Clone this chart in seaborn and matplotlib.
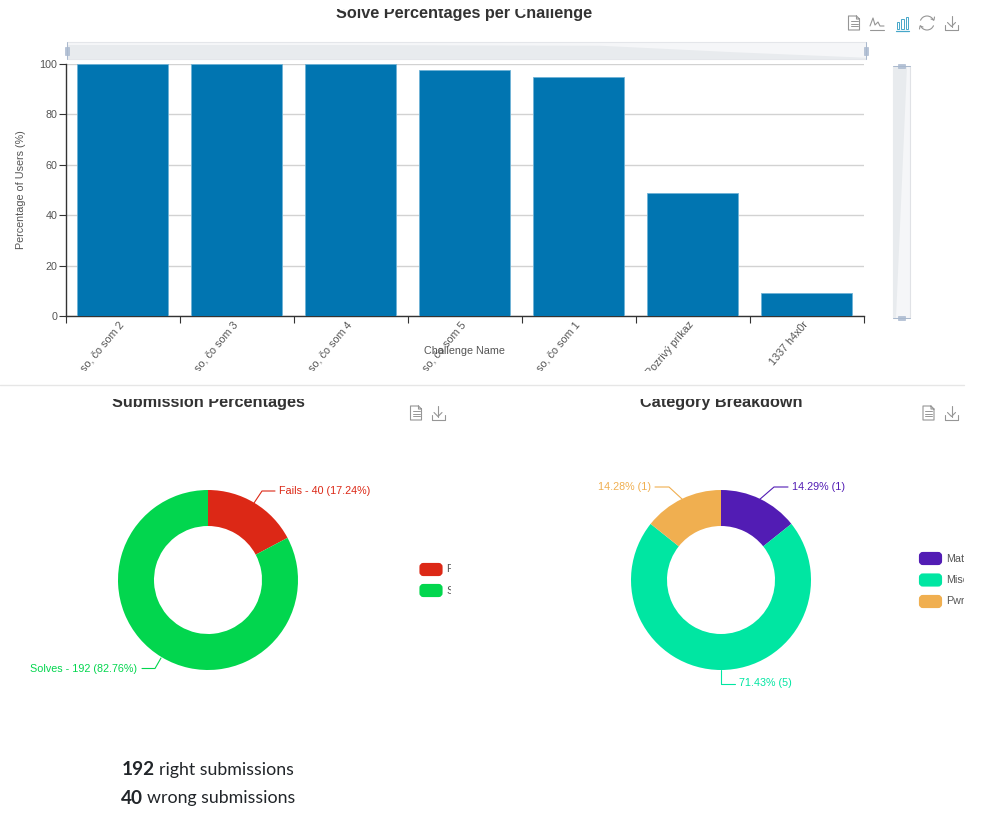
import numpy as np
import pandas as pd
import matplotlib
matplotlib.use("Agg")
import matplotlib.pyplot as plt
from matplotlib.patches import Rectangle, FancyBboxPatch, Polygon, Arc
from matplotlib.transforms import ScaledTranslation
import seaborn as sns

# ── Data ─────────────────────────────────────────────────────
challenges = ["so, čo som 2", "so, čo som 3", "so, čo som 4", "so, čo som 5",
              "so, čo som 1", "Pozrivý príkaz", "1337 h4x0r"]
solve_pct = [100, 100, 100, 97.44, 94.87, 48.72, 8.97]
y_ticks = [0, 20, 40, 60, 80, 100]

submission_names = ["Fails", "Solves"]
submission_counts = [40, 192]
submission_colors = ["#dc2816", "#02d64e"]
submission_labels = ["Fails - 40 (17.24%)", "Solves - 192 (82.76%)"]

category_names = ["Math", "Misc", "Pwn"]
category_counts = [1, 5, 1]
category_colors = ["#521cb4", "#00e6a2", "#f0af50"]
category_labels = ["14.29% (1)", "71.43% (5)", "14.28% (1)"]

W, H = 983, 816
BAR_BLUE = "#0175b1"
ICON_GREY = "#969696"
SMALL = 10.8
TITLE = 16.2

sns.set_theme(style="white")
plt.rcParams["font.family"] = ["Liberation Sans", "DejaVu Sans"]

fig = plt.figure(figsize=(W / 100, H / 100), dpi=100, facecolor="white")


def px(size):
    return size * 72 / 100


def px_axes(x0, y0, x1, y1, **kw):
    return fig.add_axes([x0 / W, 1 - y1 / H, (x1 - x0) / W, (y1 - y0) / H], **kw)


# ── Bar chart ────────────────────────────────────────────────
ax = px_axes(65.5, 64, 863.5, 316)
df = pd.DataFrame({"challenge": challenges, "pct": solve_pct})
sns.barplot(data=df, x="challenge", y="pct", color=BAR_BLUE, saturation=1, width=0.8,
            edgecolor="#6fb3d6", linewidth=0.6, ax=ax, zorder=3)
ax.set_xlim(-0.5, len(challenges) - 0.5)
ax.set_ylim(0, 100)
ax.set_xlabel("")
ax.set_ylabel("")
ax.set_yticks(y_ticks)
ax.set_xticks(np.arange(len(challenges) + 1) - 0.5)
ax.set_xticklabels([])
ax.set_xticks(np.arange(len(challenges)), challenges, minor=True)
ax.grid(axis="y", color="#d2d2d2", linewidth=1)
ax.set_axisbelow(True)
ax.tick_params(axis="y", length=5, width=0.8, color="#333333", labelsize=px(SMALL),
               labelcolor="#555555", pad=1, left=True)
ax.tick_params(axis="x", which="major", length=5, width=0.8, color="#333333", bottom=True)
ax.tick_params(axis="x", which="minor", length=0, labelsize=px(SMALL), labelcolor="#555555", pad=4)
for name, spine in ax.spines.items():
    spine.set_visible(name in ("left", "bottom"))
    spine.set_color("#333333")
    spine.set_linewidth(1)
ax.patch.set_alpha(0)

# ── Donuts ───────────────────────────────────────────────────
for (cx, values, colors) in [(208, submission_counts, submission_colors),
                             (721, category_counts, category_colors)]:
    pie_ax = px_axes(cx - 90, 490, cx + 90, 670)
    pie_ax.pie(values, colors=colors, startangle=90, counterclock=False, radius=1,
               wedgeprops=dict(width=0.4, linewidth=0))
    pie_ax.set_xlim(-1, 1)
    pie_ax.set_ylim(-1, 1)

# ── Overlay in pixel coordinates: text, sliders, toolbox ─────
ov = fig.add_axes([0, 0, 1, 1], zorder=10)
ov.set_xlim(0, W)
ov.set_ylim(H, 0)
ov.axis("off")
ov.patch.set_alpha(0)


def clip_to(artist, x0, y0, x1, y1):
    artist.set_clip_on(True)
    artist.set_clip_path(Rectangle((x0, y0), x1 - x0, y1 - y0, transform=ov.transData))


def label(x, y, s, color="#555555", size=SMALL, ha="left", **kw):
    return ov.text(x, y, s, color=color, fontsize=px(size), ha=ha, va="center", **kw)


# tick labels get cut off at the bottom of the chart container
shift = ScaledTranslation(-4 / 100, 2 / 100, fig.dpi_scale_trans)
for tl in ax.get_xticklabels(minor=True):
    tl.set_rotation(50)
    tl.set_ha("right")
    tl.set_va("top")
    tl.set_rotation_mode("anchor")
    tl.set_transform(tl.get_transform() + shift)
    clip_to(tl, 0, 318, W, 371)

# titles are cut off at the top of their containers
t = label(464, 13.5, "Solve Percentages per Challenge", color="#333333", size=TITLE, ha="center", fontweight="bold")
clip_to(t, 0, 8.5, W, 40)
t = label(208, 403, "Submission Percentages", color="#333333", size=TITLE, ha="center", fontweight="bold")
clip_to(t, 0, 398.5, 480, 430)
t = label(721, 403, "Category Breakdown", color="#333333", size=TITLE, ha="center", fontweight="bold")
clip_to(t, 500, 398.5, W, 430)

label(464.5, 351, "Challenge Name", ha="center")
label(21, 190, "Percentage of Users (%)", ha="center", rotation=90)

ov.plot([0, 964], [385, 385], color="#e6e6e6", lw=1)

# horizontal data zoom
ov.add_patch(Rectangle((67, 42), 799, 17, fc="#f5f6f8", ec="#e4e6ea", lw=0.8))
xs = np.linspace(67, 866, len(solve_pct))
ys = 59 - np.array(solve_pct) / 100 * 14
ov.add_patch(Polygon(list(zip(xs, ys)) + [(866, 59), (67, 59)], fc="#e8ebee", ec="none"))
for x in (67, 866):
    ov.plot([x, x], [42, 59], color="#a9b8cd", lw=0.7)
    ov.add_patch(Rectangle((x - 2, 46.5), 4, 8, fc="#b4c2d6", ec="#a3b3ca", lw=0.4))

# vertical data zoom
ov.add_patch(Rectangle((893, 66), 16.5, 252, fc="#f5f6f8", ec="#e0e2e6", lw=0.8))
ov.add_patch(Polygon([(893, 66), (907, 66), (896, 318), (893, 318)], fc="#e8ebee", ec="none"))
for y in (66, 318):
    ov.plot([893, 909.5], [y, y], color="#a9b8cd", lw=0.7)
    ov.add_patch(Rectangle((897.5, y - 2), 7.5, 4, fc="#b4c2d6", ec="#a3b3ca", lw=0.4))

# leader lines and outside labels
ov.plot([254, 262, 275], [503, 491, 491], color=submission_colors[0], lw=0.8)
label(279, 491, submission_labels[0], color=submission_colors[0])
ov.plot([161, 155, 142], [658, 668.5, 668.5], color=submission_colors[1], lw=0.8)
label(136.5, 668.5, submission_labels[1], color=submission_colors[1], ha="right")
ov.plot([759, 774, 788], [500, 487, 487], color=category_colors[0], lw=0.8)
label(792, 486.5, category_labels[0], color=category_colors[0])
ov.plot([721, 721, 735], [670, 683.5, 683.5], color=category_colors[1], lw=0.8)
label(739, 682.5, category_labels[1], color=category_colors[1])
ov.plot([682, 669, 655], [499, 487, 487], color=category_colors[2], lw=0.8)
label(650.5, 486.5, category_labels[2], color=category_colors[2], ha="right")


# legends, cut off at the container edge
def legend(x, y_list, names, colors, clip_x):
    for y, name, color in zip(y_list, names, colors):
        ov.add_patch(FancyBboxPatch((x + 2, y - 4.5), 19, 9, boxstyle="round,pad=0,rounding_size=2",
                                    mutation_aspect=1, fc=color, ec=color, lw=3))
        t = label(x + 27, y, name)
        clip_to(t, x, y - 12, clip_x, y + 12)


legend(419.5, [569.5, 590.5], submission_names, submission_colors, 451)
legend(919, [558.5, 580, 601.5], category_names, category_colors, 964)


# toolbox icons
def icon_file(x, y, c=ICON_GREY):
    ov.plot([x + 8, x, x, x + 11, x + 11, x + 8, x + 8, x + 11],
            [y, y, y + 14, y + 14, y + 3, y, y + 3, y + 3], color=c, lw=0.8)
    for dy in (5, 7.5, 10):
        ov.plot([x + 2, x + 9], [y + dy, y + dy], color=c, lw=0.7)


def icon_line(x, y, c=ICON_GREY):
    ov.plot([x, x + 14], [y + 14, y + 14], color=c, lw=0.8)
    ov.plot([x, x + 3, x + 5, x + 8, x + 10, x + 14], [y + 10, y + 2, y + 9, y + 6, y + 10, y + 10], color=c, lw=0.8)


def icon_bar(x, y, c="#46a7c9"):
    ov.plot([x, x + 13], [y + 14.5, y + 14.5], color=c, lw=0.9)
    for dx, top in ((0.5, 6), (5, 3), (9.5, 0.5)):
        ov.add_patch(Rectangle((x + dx, y + top), 2.8, 12.5 - top, fc="none", ec=c, lw=0.7))


def icon_refresh(x, y, c=ICON_GREY):
    ov.add_patch(Arc((x + 7, y + 7), 14, 14, theta1=200, theta2=340, ec=c, lw=0.8))
    ov.add_patch(Arc((x + 7, y + 7), 14, 14, theta1=20, theta2=160, ec=c, lw=0.8))
    ov.plot([x + 11, x + 14, x + 14.5], [y + 3, y + 4, y + 1], color=c, lw=0.8)
    ov.plot([x + 3, x + 0, x - 0.5], [y + 11, y + 10, y + 13], color=c, lw=0.8)


def icon_download(x, y, c=ICON_GREY):
    ov.plot([x, x, x + 13, x + 13], [y + 9, y + 14, y + 14, y + 9], color=c, lw=0.8)
    ov.plot([x + 6.5, x + 6.5], [y, y + 10.5], color=c, lw=0.8)
    ov.plot([x + 2.5, x + 6.5, x + 10.5], [y + 6.5, y + 10.5, y + 6.5], color=c, lw=0.8)


icon_file(848.5, 16)
icon_line(870, 16)
icon_bar(896, 16)
icon_refresh(920, 16)
icon_download(945, 16)
icon_file(410.5, 406)
icon_download(431.5, 406)
icon_file(923, 406)
icon_download(945, 406)

# summary lines below the donut, bold count followed by normal text
fig.canvas.draw()
renderer = fig.canvas.get_renderer()
for y, count, rest in [(769.5, str(submission_counts[1]), "right submissions"),
                       (798.5, str(submission_counts[0]), "wrong submissions")]:
    a = ov.text(0, y, count, family="Lato", fontweight="bold", fontsize=px(19), color="#212529", va="center")
    b = ov.text(0, y, rest, family="Lato", fontsize=px(17.8), color="#212529", va="center")
    wa = a.get_window_extent(renderer).width
    gap = 4.5
    wb = b.get_window_extent(renderer).width
    left = 208 - (wa + gap + wb) / 2
    a.set_x(left)
    b.set_x(left + wa + gap)

fig.savefig("out.png", dpi=100)
